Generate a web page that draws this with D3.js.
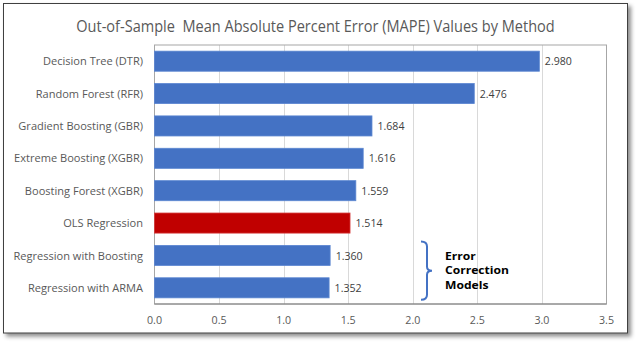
<!DOCTYPE html>
<html><head><meta charset="utf-8">
<script src="https://cdn.jsdelivr.net/npm/d3@7"></script>
<style>html,body{margin:0;padding:0;background:#fff;}svg{display:block;}</style>
</head><body>
<svg id="chart" width="638" height="344"></svg>
<script>
const categories = ["Decision Tree (DTR)","Random Forest (RFR)","Gradient Boosting (GBR)","Extreme Boosting (XGBR)","Boosting Forest (XGBR)","OLS Regression","Regression with Boosting","Regression with ARMA"];
const values = [2.980, 2.476, 1.684, 1.616, 1.559, 1.514, 1.360, 1.352];
const highlight = ["OLS Regression"];
const xTicks = [0, 0.5, 1.0, 1.5, 2.0, 2.5, 3.0, 3.5];
const title = "Out-of-Sample\u00a0 Mean Absolute Percent Error (MAPE) Values by Method";
const noteLines = ["Error", "Correction", "Models"];
const noteGroup = ["Regression with Boosting", "Regression with ARMA"];

const FONT = "'Open Sans', 'Noto Sans', sans-serif";
const svg = d3.select("#chart");
const defs = svg.append("defs");
const f = defs.append("filter").attr("id","sh").attr("x","-5%").attr("y","-5%").attr("width","112%").attr("height","115%");
f.append("feDropShadow").attr("dx",3).attr("dy",3).attr("stdDeviation",2).attr("flood-color","#000").attr("flood-opacity",0.45);

svg.append("rect").attr("x",3.5).attr("y",3.5).attr("width",624).attr("height",329.5)
  .attr("fill","#fff").attr("stroke","#3f3f3f").attr("stroke-width",1).attr("filter","url(#sh)");

const L = 154.5, R = 606.5, T = 45, B = 304;
const x = d3.scaleLinear().domain([0, 3.5]).range([L, R]);
const y = d3.scaleBand().domain(categories).range([T, B]).paddingInner(0.38).paddingOuter(0.19);

function squeeze(sel, target){
  const w = sel.node().getComputedTextLength();
  return target / w;
}

// gridlines
svg.append("g").selectAll("line").data(xTicks.slice(1, -1)).join("line")
  .attr("x1", d => Math.round(x(d)) + 0.5).attr("x2", d => Math.round(x(d)) + 0.5)
  .attr("y1", T).attr("y2", B).attr("stroke","#d9d9d9").attr("stroke-width",1);

// plot border
svg.append("rect").attr("x",L).attr("y",T).attr("width",R-L).attr("height",B-T)
  .attr("fill","none").attr("stroke","#a6a6a6").attr("stroke-width",1);

// bars
svg.append("g").selectAll("rect").data(categories).join("rect")
  .attr("x", x(0)).attr("y", d => y(d))
  .attr("width", (d,i) => x(values[i]) - x(0)).attr("height", y.bandwidth())
  .attr("fill", d => highlight.includes(d) ? "#c00000" : "#4472c4")
  .attr("stroke", d => highlight.includes(d) ? "#d43a3a" : "#5b86d1").attr("stroke-width",0.8);

svg.append("line").attr("x1",L).attr("x2",R).attr("y1",B).attr("y2",B).attr("stroke","#7f7f7f");

// title
const tt = svg.append("text").attr("text-anchor","middle")
  .attr("fill","#595959").attr("font-family",FONT).attr("font-size",15.5).text(title);
const kt = squeeze(tt, 479);
tt.attr("transform", `translate(315.5,31.5) scale(${kt},1)`);

// category labels
const cl = svg.append("g").selectAll("text").data(categories).join("text")
  .attr("dy","0.35em").attr("text-anchor","end").attr("fill","#595959")
  .attr("font-family",FONT).attr("font-size",11.6).text(d => d);
const kc = squeeze(d3.select(cl.nodes()[0]), 100);
cl.attr("transform", d => `translate(143,${y(d) + y.bandwidth()/2}) scale(${kc},1)`);

// value labels
const vl = svg.append("g").selectAll("text").data(categories).join("text")
  .attr("dy","0.35em").attr("fill","#404040").attr("font-family",FONT).attr("font-size",11.6)
  .text((d,i) => d3.format(".3f")(values[i]));
const kv = squeeze(d3.select(vl.nodes()[0]), 27);
vl.attr("transform", (d,i) => `translate(${x(values[i]) + 5.5},${y(d) + y.bandwidth()/2}) scale(${kv},1)`);

// x ticks
const xl = svg.append("g").selectAll("text").data(xTicks).join("text")
  .attr("dy","0.35em").attr("text-anchor","middle").attr("fill","#595959")
  .attr("font-family",FONT).attr("font-size",11.6).text(d => d3.format(".1f")(d));
const kx = squeeze(d3.select(xl.nodes()[0]), 15);
xl.attr("transform", d => `translate(${x(d)},320) scale(${kx},1)`);

// brace
const by0 = y(noteGroup[0]) - 4, by1 = y(noteGroup[1]) + y.bandwidth() + 2;
const bm = (by0 + by1) / 2, bx = 421, bx2 = 427, bt = 432;
svg.append("path")
  .attr("d", `M${bx},${by0} Q${bx2},${by0} ${bx2},${by0+5} L${bx2},${bm-4} Q${bx2},${bm} ${bt},${bm} Q${bx2},${bm} ${bx2},${bm+4} L${bx2},${by1-5} Q${bx2},${by1} ${bx},${by1}`)
  .attr("fill","none").attr("stroke","#4472c4").attr("stroke-width",2);

// note text: three stacked lines
const note = svg.append("g").attr("font-family",FONT).attr("font-weight","bold")
  .attr("font-size",10.5).attr("fill","#000");
const nl = note.selectAll("text").data(noteLines).join("text").text(d => d);
const kn = squeeze(d3.select(nl.nodes()[1]), 64);
nl.attr("transform", (d,i) => `translate(445,${260 + i*14.4}) scale(${kn},1)`);
</script>
</body></html>
